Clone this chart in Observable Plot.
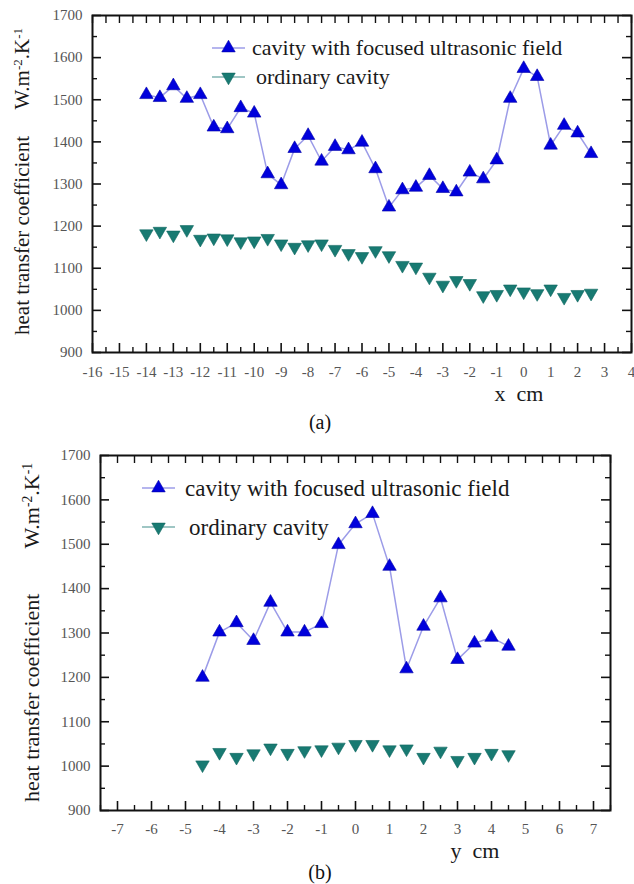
<!DOCTYPE html>
<html>
<head>
<meta charset="utf-8">
<script src="https://cdn.jsdelivr.net/npm/d3@7"></script>
<script src="https://cdn.jsdelivr.net/npm/@observablehq/plot@0.6"></script>
<style>
  html, body { margin: 0; padding: 0; background: #fff; }
  #chart { width: 634px; }
  svg { display: block; }
</style>
</head>
<body>
<div id="chart"></div>
<script>
// ---------- data ----------
const xPosA = [-14, -13.5, -13, -12.5, -12, -11.5, -11, -10.5, -10, -9.5, -9, -8.5, -8, -7.5, -7, -6.5, -6, -5.5, -5, -4.5, -4, -3.5, -3, -2.5, -2, -1.5, -1, -0.5, 0, 0.5, 1, 1.5, 2, 2.5];
const focusedA = [1512, 1505, 1533, 1503, 1512, 1435, 1431, 1481, 1468, 1324, 1298, 1384, 1415, 1354, 1389, 1381, 1399, 1336, 1245, 1286, 1292, 1320, 1289, 1281, 1328, 1312, 1357, 1503, 1574, 1555, 1392, 1439, 1421, 1372];
const ordinaryA = [1182, 1188, 1179, 1192, 1169, 1172, 1170, 1163, 1165, 1171, 1158, 1150, 1156, 1158, 1145, 1135, 1128, 1142, 1130, 1107, 1103, 1079, 1060, 1071, 1064, 1035, 1038, 1051, 1044, 1040, 1051, 1031, 1038, 1041];

const yPosB = [-4.5, -4, -3.5, -3, -2.5, -2, -1.5, -1, -0.5, 0, 0.5, 1, 1.5, 2, 2.5, 3, 3.5, 4, 4.5];
const focusedB = [1200, 1302, 1323, 1283, 1369, 1302, 1302, 1321, 1499, 1546, 1569, 1450, 1219, 1315, 1379, 1240, 1277, 1290, 1270];
const ordinaryB = [1003, 1031, 1020, 1028, 1041, 1029, 1035, 1037, 1043, 1049, 1049, 1037, 1039, 1020, 1034, 1013, 1020, 1029, 1026];

const yTickValues = [900, 1000, 1100, 1200, 1300, 1400, 1500, 1600, 1700];
const xTickValuesA = [-16, -15, -14, -13, -12, -11, -10, -9, -8, -7, -6, -5, -4, -3, -2, -1, 0, 1, 2, 3, 4];
const xTickValuesB = [-7, -6, -5, -4, -3, -2, -1, 0, 1, 2, 3, 4, 5, 6, 7];

const seriesNames = ["cavity with focused ultrasonic field", "ordinary cavity"];
const yLabelMain = "heat transfer coefficient";
const captions = ["(a)", "(b)"];

// ---------- styling ----------
const FONT = "'Liberation Serif', 'Times New Roman', serif";
const BLUE = "#0000dc";
const BLUE_LINE = "#9c9ce8";
const TEAL = "#187a72";
const TEAL_LINE = "#7fb3b0";
const AXIS = "#111";

const downTriangle = {
  draw(context, size) {
    const y = -Math.sqrt(size / (Math.sqrt(3) * 3));
    context.moveTo(0, -y * 2);
    context.lineTo(Math.sqrt(3) * y, y);
    context.lineTo(-Math.sqrt(3) * y, y);
    context.closePath();
  }
};

function halfSteps(domain) {
  const out = [];
  for (let v = Math.ceil(domain[0] * 2) / 2; v <= domain[1] + 1e-9; v += 0.5) out.push(v);
  return out;
}

function makePanel(cfg) {
  const rows = cfg.xs.map((x, i) => ({x, focused: cfg.focused[i], ordinary: cfg.ordinary[i]}));
  const pw = cfg.width - cfg.marginLeft - cfg.marginRight;
  const ph = cfg.height - cfg.marginTop - cfg.marginBottom;
  const xMajor = cfg.xTicks.filter(v => v >= cfg.xDomain[0] - 1e-9 && v <= cfg.xDomain[1] + 1e-9);
  const halves = halfSteps(cfg.xDomain);
  const xMinor = halves.filter(v => !Number.isInteger(v));
  const yMinor = yTickValues.slice(0, -1).map(v => v + 50);
  const majorLen = 9, minorLen = 5, topLen = 8;

  const svg = Plot.plot({
    width: cfg.width,
    height: cfg.height,
    marginLeft: cfg.marginLeft,
    marginRight: cfg.marginRight,
    marginTop: cfg.marginTop,
    marginBottom: cfg.marginBottom,
    style: {fontFamily: FONT, background: "#fff", color: "#444"},
    x: {domain: cfg.xDomain},
    y: {domain: [900, 1700]},
    marks: [
      // inward ticks
      Plot.tickY(yTickValues, {y: d => d, insetRight: pw - majorLen, stroke: AXIS, strokeWidth: 1.6}),
      Plot.tickY(yMinor, {y: d => d, insetRight: pw - minorLen, stroke: AXIS, strokeWidth: 1.4}),
      Plot.tickY(yTickValues, {y: d => d, insetLeft: pw - majorLen, stroke: AXIS, strokeWidth: 1.6}),
      Plot.tickY(yMinor, {y: d => d, insetLeft: pw - minorLen, stroke: AXIS, strokeWidth: 1.4}),
      Plot.tickX(xMajor, {x: d => d, insetTop: ph - majorLen, stroke: AXIS, strokeWidth: 1.6}),
      Plot.tickX(xMinor, {x: d => d, insetTop: ph - minorLen, stroke: AXIS, strokeWidth: 1.4}),
      Plot.tickX(halves, {x: d => d, insetBottom: ph - topLen, stroke: AXIS, strokeWidth: 1.4}),
      Plot.frame({stroke: AXIS, strokeWidth: 2}),
      // tick labels
      Plot.axisY(yTickValues, {tickSize: 0, tickPadding: 10, tickFormat: d => String(d), label: null, fontSize: 15, color: "#555"}),
      Plot.axisX(xMajor, {tickSize: 0, tickPadding: cfg.xTickPadding, tickFormat: d => String(d), label: null, fontSize: 15, color: "#555"}),
      // data
      Plot.line(rows, {x: "x", y: "focused", stroke: BLUE_LINE, strokeWidth: 1.5}),
      Plot.dot(rows, {x: "x", y: "ordinary", symbol: downTriangle, r: 5, fill: TEAL, stroke: "#0e6660", strokeWidth: 0.6}),
      Plot.dot(rows, {x: "x", y: "focused", symbol: "triangle", r: 5, fill: BLUE, stroke: "#0000a8", strokeWidth: 0.6})
    ]
  });

  const s = d3.select(svg);
  // y axis title
  const yl = s.append("g").attr("font-family", FONT).attr("fill", "#1a1a1a").attr("font-size", cfg.yLabelSize)
    .attr("text-anchor", "start");
  yl.append("text").attr("transform", `translate(${cfg.yLabelX},${cfg.yLabelBottom}) rotate(-90)`)
    .attr("text-anchor", "start").text(yLabelMain);
  const unit = yl.append("text").attr("transform", `translate(${cfg.yLabelX},${cfg.yLabelTop}) rotate(-90)`)
    .attr("text-anchor", "end");
  unit.append("tspan").text("W.m");
  unit.append("tspan").attr("baseline-shift", "super").attr("font-size", cfg.yLabelSize * 0.62).text("-2");
  unit.append("tspan").text(".K");
  unit.append("tspan").attr("baseline-shift", "super").attr("font-size", cfg.yLabelSize * 0.62).text("-1");

  // legend
  const lg = s.append("g").attr("font-family", FONT).attr("font-size", cfg.legendSize).attr("fill", "#1a1a1a")
    .attr("text-anchor", "start");
  const tri = d3.symbol().type(d3.symbolTriangle).size(Math.PI * 25);
  const triDown = d3.symbol().type(downTriangle).size(Math.PI * 25);
  const entries = [
    {name: seriesNames[0], y: cfg.legendY[0], line: BLUE_LINE, fill: BLUE, stroke: "#0000a8", path: tri, tx: cfg.legendTextX[0]},
    {name: seriesNames[1], y: cfg.legendY[1], line: TEAL_LINE, fill: TEAL, stroke: "#0e6660", path: triDown, tx: cfg.legendTextX[1]}
  ];
  for (const e of entries) {
    lg.append("line").attr("x1", cfg.legendLine[0]).attr("x2", cfg.legendLine[1]).attr("y1", e.y).attr("y2", e.y)
      .attr("stroke", e.line).attr("stroke-width", 1.5);
    lg.append("path").attr("d", e.path()).attr("transform", `translate(${(cfg.legendLine[0] + cfg.legendLine[1]) / 2},${e.y})`)
      .attr("fill", e.fill).attr("stroke", e.stroke).attr("stroke-width", 0.6);
    lg.append("text").attr("x", e.tx).attr("y", e.y).attr("dy", "0.33em").attr("text-anchor", "start").text(e.name);
  }

  // x axis title
  s.append("text").attr("font-family", FONT).attr("font-size", 22).attr("fill", "#1a1a1a")
    .attr("text-anchor", "middle").attr("x", cfg.xTitle[0]).attr("y", cfg.xTitle[1])
    .text(cfg.xTitleText);
  // caption
  s.append("text").attr("font-family", FONT).attr("font-size", 20).attr("fill", "#111")
    .attr("text-anchor", "middle").attr("x", cfg.caption[0]).attr("y", cfg.caption[1])
    .text(cfg.captionText);
  return svg;
}

const chart = document.getElementById("chart");
chart.appendChild(makePanel({
  xs: xPosA, focused: focusedA, ordinary: ordinaryA,
  xDomain: [-16, 4], xTicks: xTickValuesA,
  width: 634, height: 440, marginLeft: 92, marginRight: 3, marginTop: 15, marginBottom: 88,
  xTickPadding: 14,
  yLabelX: 29, yLabelBottom: 335, yLabelTop: 28, yLabelSize: 21,
  legendY: [48, 77], legendLine: [212, 245], legendTextX: [252, 256], legendSize: 22,
  xTitle: [519, 401], xTitleText: "x\u00a0\u00a0cm",
  caption: [320, 429], captionText: captions[0]
}));
chart.appendChild(makePanel({
  xs: yPosB, focused: focusedB, ordinary: ordinaryB,
  xDomain: [-7.5, 7.5], xTicks: xTickValuesB,
  width: 634, height: 444, marginLeft: 100, marginRight: 24, marginTop: 15, marginBottom: 74,
  xTickPadding: 13,
  yLabelX: 39, yLabelBottom: 362, yLabelTop: 23, yLabelSize: 22,
  legendY: [48, 87], legendLine: [142, 175], legendTextX: [185, 189], legendSize: 23,
  xTitle: [475, 418], xTitleText: "y\u00a0\u00a0cm",
  caption: [320, 439], captionText: captions[1]
}));
</script>
</body>
</html>
